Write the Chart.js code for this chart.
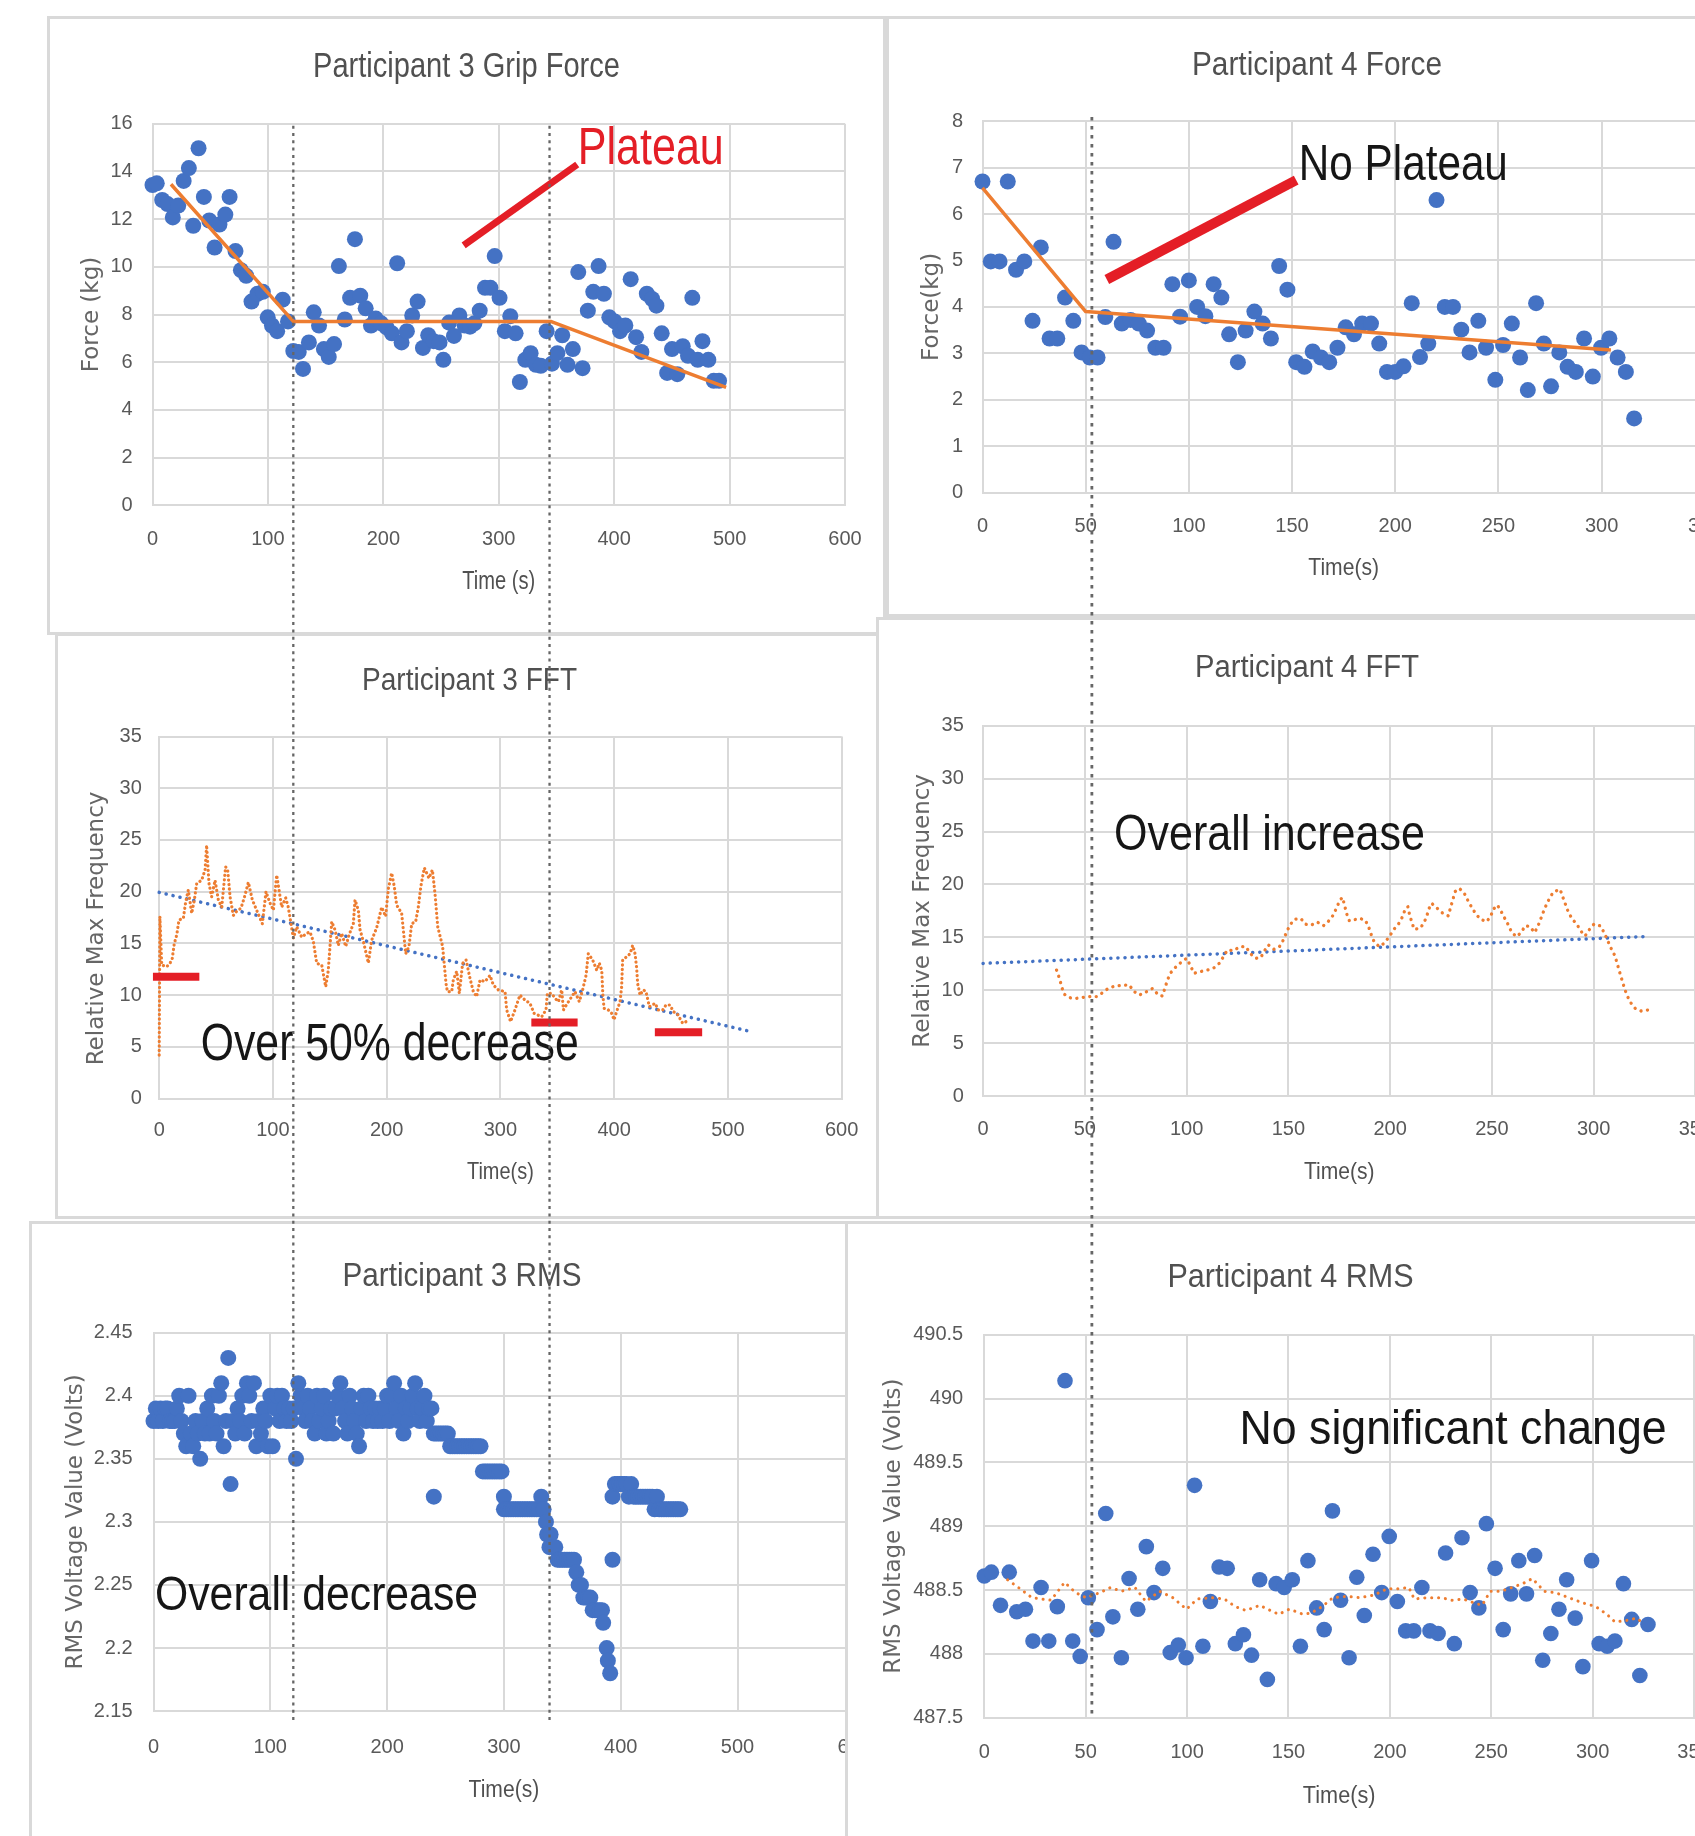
<!DOCTYPE html>
<html>
<head>
<meta charset="utf-8">
<script src="https://cdn.jsdelivr.net/npm/chart.js@4.4.1/dist/chart.umd.min.js"></script>
<style>
html, body { margin: 0; padding: 0; background: #fff; width: 1695px; height: 1836px; overflow: hidden; position: relative; }
.panel { position: absolute; border: 3px solid #d9d9d9; background: #fff; }
.panel canvas { display: block; }
#overlay { position: absolute; left: 0; top: 0; pointer-events: none; z-index: 20; }
</style>
</head>
<body>
<canvas id="overlay" width="1695" height="1836"></canvas>
<script>
// ---- data ----
const p3ForcePoints = [[0,13.43],[3.7,13.5],[8.4,12.8],[13,12.63],[17.6,12.07],[22.3,12.57],[27,13.6],[31.5,14.14],[35.3,11.72],[39.9,14.97],[44.5,12.93],[49.2,11.94],[53.8,10.81],[58,11.77],[63.1,12.19],[66.8,12.93],[71.9,10.66],[76.6,9.86],[81.2,9.62],[85.8,8.54],[91,8.87],[95.6,8.95],[99.8,7.88],[103.5,7.54],[108,7.3],[112.8,8.62],[117.4,7.71],[122,6.47],[126.7,6.43],[130.4,5.72],[135.5,6.83],[139.7,8.09],[144.3,7.54],[148.5,6.55],[152.7,6.22],[157.3,6.76],[161.5,10.03],[166.6,7.79],[171.2,8.7],[175.4,11.16],[180,8.79],[184.7,8.26],[189.3,7.54],[193.5,7.83],[198.1,7.63],[202.8,7.46],[207.4,7.21],[212,10.15],[215.8,6.83],[220.4,7.3],[225,7.96],[229.7,8.54],[234.3,6.6],[238.9,7.13],[243.6,6.88],[248.7,6.83],[252,6.1],[257,7.66],[261.2,7.1],[265.9,7.96],[270.5,7.54],[275.1,7.49],[278.9,7.63],[283.5,8.16],[288.1,9.12],[292.8,9.12],[296.5,10.45],[300.7,8.7],[305.3,7.3],[310,7.93],[314.6,7.21],[318.3,5.17],[323,6.1],[327.6,6.38],[332.2,5.89],[336.4,5.85],[341.5,7.3],[346.1,5.94],[350.8,6.38],[355,7.13],[359.6,5.89],[364.2,6.55],[368.9,9.78],[372.6,5.75],[377.2,8.16],[381.9,8.95],[386.5,10.03],[391.1,8.87],[395.8,7.88],[400.4,7.71],[405.1,7.3],[409.7,7.54],[414.3,9.48],[419,7.05],[423.6,6.43],[428.3,8.87],[432.9,8.65],[436.6,8.37],[441.2,7.21],[445.9,5.55],[450.1,6.55],[454.7,5.5],[459.4,6.67],[464,6.27],[467.7,8.7],[472.4,6.1],[476.5,6.88],[481.6,6.1],[486.3,5.22],[490.9,5.22]];
const p3ForceFit = [[16,13.46],[122,7.71],[345,7.71],[497,4.94]];

const p4ForcePoints = [[0,6.7],[4,4.98],[8.25,4.98],[12.25,6.7],[16.25,4.8],[20.25,4.98],[24.25,3.7],[28.25,5.28],[32.5,3.32],[36.25,3.32],[40,4.2],[44,3.7],[48,3.02],[52,2.91],[55.75,2.91],[59.5,3.78],[63.5,5.4],[67.5,3.64],[71.75,3.72],[75.75,3.64],[79.75,3.49],[83.75,3.12],[87.75,3.12],[92,4.49],[95.75,3.79],[100,4.57],[104,4.0],[108,3.8],[112,4.49],[115.75,4.2],[119.5,3.41],[123.75,2.81],[127.5,3.49],[131.75,3.9],[135.75,3.64],[139.75,3.32],[143.75,4.88],[147.75,4.37],[152,2.81],[156,2.71],[160,3.04],[164,2.91],[168,2.81],[172,3.12],[176,3.56],[180,3.41],[184,3.64],[188.25,3.64],[192.25,3.21],[196,2.6],[200,2.6],[204,2.72],[208,4.08],[212,2.92],[216,3.21],[220,6.3],[224,4.0],[228,4.0],[232,3.51],[236,3.02],[240.25,3.7],[244,3.12],[248.5,2.43],[252.25,3.18],[256.5,3.64],[260.5,2.91],[264.25,2.21],[268.25,4.08],[272,3.21],[275.5,2.29],[279.5,3.02],[283.5,2.71],[287.5,2.6],[291.5,3.32],[295.75,2.5],[299.75,3.12],[303.75,3.32],[307.75,2.91],[311.75,2.6],[315.75,1.6]];
const p4ForceFit = [[0,6.56],[50,3.9],[304.5,3.07]];

const p3FftPoints = [[0,4.2],[0.6,17.6],[2.2,12.9],[6.6,12.75],[9.5,13.07],[11.5,13.55],[13.3,15.0],[15.4,15.8],[17.4,17.26],[21.2,17.4],[23.3,19.0],[25.6,20.16],[28.6,17.9],[30.9,19.2],[33,20.8],[37.3,21.1],[40.3,22.1],[41.7,24.5],[43.8,20.8],[46.1,19.5],[49.1,21.1],[52,19.2],[55,18.5],[58.4,22.4],[60.2,22.1],[62.3,19.5],[65.2,17.7],[68.1,18.1],[71.9,18.4],[74.9,19.45],[78.4,20.9],[81.9,19.2],[85.7,18.2],[90.7,16.9],[93.9,20.0],[97.4,18.9],[100.4,18.2],[103.3,21.6],[105.3,20.2],[107.7,18.5],[111.2,19.4],[113.5,18.5],[115.9,16.9],[118,15.5],[120.9,16.6],[125.3,15.6],[129.7,15.97],[132.6,16.1],[135.5,15.2],[138.5,13.07],[142.9,12.9],[146.4,10.8],[148.7,12.4],[151.7,17.1],[154.6,16.3],[157.5,14.8],[160.4,15.97],[164,14.7],[166.9,15.8],[170.7,16.9],[172.2,19.2],[175.1,18.2],[176.6,16.3],[179.5,15.2],[183.9,13.1],[186.8,15.3],[191.2,16.5],[195.6,18.5],[199.1,17.6],[201.5,20.3],[204.4,21.8],[206.7,20.5],[208.8,18.7],[213.2,17.9],[216.7,14.0],[219.6,14.7],[222,16.9],[225.5,17.1],[227.8,18.5],[230.2,20.6],[233.1,22.3],[237.2,21.3],[240.2,22.1],[242.5,19.8],[244.9,16.6],[249.2,14.7],[252.2,11.1],[253.4,10.33],[257.2,10.33],[258.6,11.46],[261.6,12.3],[263.9,10.17],[266.8,13.07],[269.8,13.4],[273.3,11.6],[276.2,10.33],[279.1,9.85],[282.1,11.46],[286.5,11.3],[290.9,11.9],[293.8,10.97],[298.2,10.5],[304.1,10.33],[305.5,8.56],[309,7.43],[312.8,8.56],[317.2,10.0],[321.6,9.52],[326,9.2],[329.6,8.24],[336.3,7.9],[340.1,8.56],[341.3,10.17],[345.1,10.17],[348,9.69],[351,9.36],[353.9,10.5],[355.4,8.56],[358.9,9.2],[361.8,9.69],[365.6,10.33],[369.4,9.36],[372.3,10.5],[375.3,11.9],[377.3,14.0],[381.1,13.4],[384.7,12.4],[387,13.07],[389.1,12.4],[390,10.17],[391.1,8.72],[394.9,8.56],[397.8,8.24],[399.9,7.6],[402.2,8.4],[405.2,9.36],[406.6,10.8],[407.5,13.4],[411,13.7],[414,14.0],[416.3,14.8],[418.4,14.0],[419.8,12.6],[420.7,11.1],[422.8,10.0],[425.7,10.5],[428,10.33],[431,8.88],[436,9.2],[438.9,8.56],[442.7,8.56],[445.6,9.04],[449.1,9.04],[452.1,8.4],[455.6,8.17],[460.3,7.27],[463.2,7.43]];
const p3FftTrend = [[0,19.93],[521.4,6.44]];

const p4FftPoints = [[36.1,11.9],[37.5,11.13],[38.6,10.34],[39.7,9.65],[42.4,9.3],[46,9.24],[49.3,9.33],[52.5,9.4],[55.8,9.4],[58.7,9.77],[61.5,10.18],[64.8,10.4],[68.6,10.47],[71.9,10.5],[73.8,9.93],[76.8,9.55],[80.4,9.87],[83.3,10.18],[86.1,9.55],[88.1,9.46],[89.4,10.24],[90.7,11.03],[92.2,11.66],[94.8,12.23],[97.6,12.7],[100,13.02],[102,12.29],[103.6,11.6],[106.6,11.76],[109.9,11.9],[113.1,12.07],[116.1,12.55],[118.1,13.17],[120,13.8],[123,13.74],[126.2,14.12],[129.2,14.12],[131.1,13.49],[134.1,13.02],[136.4,13.08],[138.5,13.8],[140.2,14.28],[142.9,13.87],[145.6,14.12],[147.5,14.75],[149.2,15.54],[150.8,16.17],[152.9,16.7],[156.2,16.77],[158.2,16.26],[161,16.14],[164.2,16.45],[167.2,16.1],[169.6,16.5],[172.1,17.11],[173.7,17.8],[175.4,18.53],[176.6,18.78],[177.7,17.96],[178.7,17.2],[180,16.55],[182,16.64],[184.9,16.8],[187.7,16.64],[189.3,16.07],[190.6,15.32],[192.1,14.59],[194.7,14.12],[197,14.43],[199.6,15.06],[201.6,15.7],[204.1,16.26],[205.7,16.8],[207.3,17.59],[208.7,17.9],[209.5,17.18],[210.6,16.48],[211.8,15.76],[214.7,15.85],[216.7,16.39],[218,17.02],[219.3,17.81],[220.4,18.22],[223.2,17.74],[225.9,17.27],[228.6,17.02],[229.8,17.9],[230.8,18.53],[231.9,19.32],[234,19.63],[236.3,19.22],[238.1,18.53],[240.1,17.84],[242.1,17.21],[244.5,16.7],[247.5,16.48],[249.4,17.02],[251.1,17.74],[252.7,18.06],[254.8,17.36],[256.5,16.73],[258.1,16.17],[259.8,15.44],[262.2,15.07],[264.7,15.54],[266.3,16.1],[268.8,16.01],[270.9,15.44],[272.4,15.95],[273.7,16.58],[275,17.27],[276.5,17.96],[278.3,18.69],[280.2,19.29],[283.5,19.54],[284.8,18.84],[286.1,18.15],[287.6,17.36],[289.6,16.7],[291.7,16.26],[293.7,15.6],[295.8,15.13],[298,15.76],[300.2,16.26],[303.5,16.07],[305.3,15.38],[306.9,14.69],[308.6,13.96],[310.5,13.24],[312.7,11.76],[315,10.28],[316.3,9.55],[318.2,8.83],[320.4,8.29],[323.3,8.04],[326.9,8.14]];
const p4FftTrend = [[0,12.54],[327.2,15.09]];

const p3RmsPoints = [[0,2.38],[2,2.39],[4,2.38],[6,2.39],[8,2.38],[10,2.39],[12,2.39],[14,2.38],[16,2.38],[18,2.38],[20,2.39],[22,2.40],[24,2.38],[26,2.37],[28,2.36],[30,2.40],[32,2.37],[34,2.36],[36,2.38],[38,2.37],[40,2.35],[42,2.38],[44,2.37],[46,2.39],[48,2.37],[50,2.40],[52,2.38],[54,2.37],[56,2.40],[58,2.41],[60,2.36],[62,2.38],[64,2.43],[66,2.33],[68,2.38],[70,2.37],[72,2.39],[74,2.38],[76,2.40],[78,2.37],[80,2.41],[82,2.40],[84,2.38],[86,2.41],[88,2.36],[90,2.38],[92,2.37],[94,2.39],[96,2.38],[98,2.36],[100,2.40],[102,2.36],[104,2.39],[106,2.40],[108,2.38],[110,2.40],[112,2.39],[114,2.38],[116,2.39],[118,2.38],[120,2.39],[122,2.35],[124,2.41],[126,2.40],[128,2.39],[130,2.38],[132,2.40],[134,2.39],[136,2.38],[138,2.37],[140,2.40],[142,2.38],[144,2.39],[146,2.40],[148,2.37],[150,2.38],[152,2.39],[154,2.37],[156,2.39],[158,2.40],[160,2.41],[162,2.39],[164,2.38],[166,2.37],[168,2.40],[170,2.39],[172,2.38],[174,2.37],[176,2.36],[178,2.39],[180,2.40],[182,2.38],[184,2.40],[186,2.39],[188,2.38],[190,2.39],[192,2.38],[194,2.39],[196,2.38],[198,2.39],[200,2.40],[202,2.38],[204,2.40],[206,2.41],[208,2.39],[210,2.38],[212,2.40],[214,2.37],[216,2.39],[218,2.38],[220,2.39],[222,2.40],[224,2.41],[226,2.39],[228,2.38],[230,2.39],[232,2.40],[234,2.38],[236,2.39],[238,2.39],
  [240,2.32],[240,2.37],[242,2.37],[244,2.37],[246,2.37],[248,2.37],[250,2.37],[252,2.37],[254,2.36],[256,2.36],[258,2.36],[260,2.36],[262,2.36],[264,2.36],[266,2.36],[268,2.36],[270,2.36],[272,2.36],[274,2.36],[276,2.36],[278,2.36],[280,2.36],[282,2.34],[284,2.34],[286,2.34],[288,2.34],[290,2.34],[292,2.34],[294,2.34],[296,2.34],[298,2.34],[300,2.32],[300,2.31],[302,2.31],[304,2.31],[306,2.31],[308,2.31],[310,2.31],[312,2.31],[314,2.31],[316,2.31],[318,2.31],[320,2.31],[322,2.31],[324,2.31],[326,2.31],[328,2.31],[330,2.31],[332,2.32],[334,2.31],[336,2.30],[337,2.29],[339,2.28],[340,2.29],[342,2.28],[344,2.28],[346,2.27],[348,2.27],[350,2.27],[352,2.27],[354,2.27],[356,2.27],[358,2.27],[360,2.27],[362,2.26],[364,2.25],[366,2.25],[368,2.24],[370,2.24],[372,2.24],[374,2.24],[376,2.23],[378,2.23],[380,2.23],[382,2.23],[384,2.23],[385,2.22],[388,2.20],[389,2.19],[391,2.18],[393,2.27],[393,2.32],[395,2.33],[397,2.33],[399,2.33],[401,2.33],[403,2.33],[405,2.33],[407,2.32],[409,2.33],[411,2.32],[413,2.32],[415,2.32],[417,2.32],[419,2.32],[421,2.32],[423,2.32],[425,2.32],[427,2.32],[429,2.31],[431,2.32],[433,2.31],[435,2.31],[437,2.31],[439,2.31],[441,2.31],[443,2.31],[445,2.31],[447,2.31],[449,2.31],[451,2.31]];

const p4RmsPoints = [[0,488.61],[3.5,488.64],[8,488.38],[12.3,488.64],[16,488.33],[20.3,488.35],[24,488.1],[28,488.52],[31.8,488.1],[36,488.37],[39.8,490.14],[43.6,488.1],[47.3,487.98],[51.3,488.44],[55.6,488.19],[59.9,489.1],[63.4,488.29],[67.6,487.97],[71.4,488.59],[75.7,488.35],[79.9,488.84],[83.7,488.48],[88,488.67],[91.7,488.01],[95.7,488.07],[99.5,487.97],[103.7,489.32],[107.8,488.06],[111.5,488.41],[115.8,488.68],[119.8,488.67],[123.8,488.08],[127.8,488.15],[131.8,487.99],[135.8,488.58],[139.6,487.8],[143.9,488.55],[147.9,488.52],[151.9,488.58],[155.9,488.06],[159.6,488.73],[163.9,488.36],[167.6,488.19],[171.7,489.12],[175.7,488.42],[179.9,487.97],[183.7,488.6],[187.4,488.3],[191.7,488.78],[196,488.48],[199.7,488.92],[203.7,488.41],[207.8,488.18],[211.8,488.18],[215.8,488.52],[219.8,488.18],[223.8,488.16],[227.5,488.79],[231.8,488.08],[235.6,488.91],[239.6,488.48],[243.9,488.36],[247.6,489.02],[251.9,488.67],[255.9,488.19],[259.6,488.47],[263.6,488.73],[267.4,488.47],[271.4,488.77],[275.4,487.95],[279.4,488.16],[283.4,488.35],[287.2,488.58],[291.4,488.28],[295.2,487.9],[299.5,488.73],[303.2,488.08],[307.2,488.06],[311,488.1],[315.2,488.55],[319.3,488.27],[323.3,487.83],[327.3,488.23]];
const p4RmsAvg = [[11.5,488.58],[16.8,488.52],[23.5,488.44],[32.9,488.42],[39.6,488.56],[45,488.48],[50.3,488.44],[57,488.48],[62.3,488.52],[67.6,488.49],[74.3,488.52],[79.7,488.41],[86.4,488.49],[93,488.44],[99.7,488.35],[105,488.43],[111.8,488.44],[118.4,488.43],[123.8,488.37],[129,488.34],[135.8,488.38],[142.5,488.33],[145.2,488.31],[150.5,488.35],[157.2,488.31],[161.2,488.32],[166.6,488.37],[171.9,488.44],[178.6,488.45],[185.3,488.44],[192,488.46],[198.7,488.51],[204,488.51],[209.4,488.52],[212,488.43],[218.7,488.44],[225.4,488.44],[230.7,488.42],[236.1,488.43],[241.4,488.4],[245.5,488.38],[249.5,488.49],[254.8,488.49],[260.2,488.52],[265.5,488.55],[270.3,488.59],[276.2,488.49],[281.6,488.48],[288.3,488.44],[295,488.4],[301.6,488.37],[307,488.31],[311,488.25],[316.3,488.26],[321.7,488.28],[325.7,488.23]];

// phase boundaries (s) marked by the dotted verticals
const p3Phases = [122, 344];
const p4Phases = [53];

// ---- look ----
const BLUE = '#4472C4', ORANGE = '#ED7D31', RED = '#E41E26', GRID = '#D9D9D9', LABEL = '#595959', INK = '#161616';

function hasFont(name) {
  const c = document.createElement('canvas').getContext('2d');
  const s = 'Participant 0123456789';
  c.font = '40px monospace';
  const w1 = c.measureText(s).width;
  c.font = `40px '${name}', monospace`;
  return Math.abs(c.measureText(s).width - w1) > 1;
}
const NARROW = hasFont('Liberation Sans Narrow');
const COND = NARROW ? "'Liberation Sans Narrow', 'Arial Narrow', sans-serif" : "'Liberation Sans', Arial, sans-serif";
const TICK_SIZE = NARROW ? 22 : 20;
const YT_SIZE = 23;

// page placement of the six screenshots: box = [left, top, bottom]
const PANELS = {
  a: { box: [47, 16, 635],   plot: [152.5, 845, 123.7, 505.3],    title: [466.6, 64.4],   yTitleX: 92.5,  xTitleY: 580,    yTickRight: 132.7, xTickY: 539,    z: 1 },
  b: { box: [886, 16, 617],  plot: [982.5, 1704.8, 121.1, 492.7], title: [1316.8, 63.2],  yTitleX: 932.4, xTitleY: 566.7,  yTickRight: 963,   xTickY: 526,    z: 2 },
  c: { box: [55, 633, 1219], plot: [159.2, 841.6, 736.5, 1098.5], title: [469.6, 678.9],  yTitleX: 97.1,  xTitleY: 1170.7, yTickRight: 141.8, xTickY: 1130.5, z: 3 },
  d: { box: [876, 617, 1219],plot: [983.1, 1695.4, 725.7, 1096.1],title: [1306.9, 665.2], yTitleX: 923,   xTitleY: 1170.6, yTickRight: 963.8, xTickY: 1129.3, z: 4 },
  e: { box: [29, 1221, 1860],plot: [153.5, 854.3, 1332.7, 1711.1],title: [462.1, 1274.2],yTitleX: 76.1,  xTitleY: 1788.5, yTickRight: 132.6, xTickY: 1747.2, z: 5 },
  f: { box: [845, 1221, 1860],plot: [984.3, 1694, 1334.7, 1717.7],title: [1290.6, 1275], yTitleX: 893.8, xTitleY: 1794.4, yTickRight: 963.2, xTickY: 1752.3, z: 6 }
};

const pts = arr => arr.map(([x, y]) => ({ x, y }));
const dots = (arr, r) => ({ data: pts(arr), backgroundColor: BLUE, borderWidth: 0, pointRadius: r, pointHoverRadius: r, clip: false });
const line = (arr, color, width, dash) => ({
  data: pts(arr), showLine: true, borderColor: color, borderWidth: width,
  borderDash: dash || [], borderCapStyle: dash ? 'round' : 'butt', borderJoinStyle: 'round',
  pointRadius: 0, pointHoverRadius: 0, fill: false, tension: 0, clip: false
});

// condensed text: fitted to a width, cap height given in px
function fitText(ctx, text, x, y, width, cap, color, align) {
  ctx.font = `${cap / 0.716}px ${COND}`;
  const w = ctx.measureText(text).width;
  ctx.save();
  ctx.translate(x, y);
  ctx.scale(width / w, 1);
  ctx.fillStyle = color;
  ctx.textAlign = align;
  ctx.textBaseline = 'alphabetic';
  ctx.fillText(text, 0, 0);
  ctx.restore();
}

// headings plus red strokes and hand-written labels (the latter in data units)
function notes(heads, lines, texts) {
  return {
    id: 'notes',
    afterDraw(chart) {
      const { ctx, scales: { x, y } } = chart;
      ctx.save();
      heads.forEach(h => fitText(ctx, h.text, h.cx, h.cy + h.cap / 2, h.width, h.cap, h.color, 'center'));
      lines.forEach(ln => {
        ctx.beginPath();
        ctx.strokeStyle = RED;
        ctx.lineWidth = ln.w;
        ctx.lineCap = 'butt';
        ctx.moveTo(x.getPixelForValue(ln.from[0]), y.getPixelForValue(ln.from[1]));
        ctx.lineTo(x.getPixelForValue(ln.to[0]), y.getPixelForValue(ln.to[1]));
        ctx.stroke();
      });
      texts.forEach(tx => fitText(ctx, tx.text, x.getPixelForValue(tx.at[0]), y.getPixelForValue(tx.at[1]), tx.width, tx.cap, tx.color, 'left'));
      ctx.restore();
    }
  };
}

function makeChart(key, cfg) {
  const P = PANELS[key];
  const il = P.box[0] + 3, it = P.box[1] + 3;
  const W = Math.round(2 * (P.title[0] - il));
  const H = Math.round(P.box[2] - 3 - it);
  const l = P.plot[0] - il, r = P.plot[1] - il, t = P.plot[2] - it, b = P.plot[3] - it;

  const div = document.createElement('div');
  div.className = 'panel';
  Object.assign(div.style, { left: P.box[0] + 'px', top: P.box[1] + 'px', width: W + 'px', height: H + 'px', zIndex: P.z });
  const cv = document.createElement('canvas');
  cv.width = W; cv.height = H;
  div.appendChild(cv);
  document.body.appendChild(div);

  const heads = [
    { text: cfg.title, cx: W / 2, cy: P.title[1] - it, width: cfg.titleFit[0], cap: cfg.titleFit[1], color: '#505050' },
    { text: cfg.xTitle, cx: (l + r) / 2, cy: P.xTitleY - it, width: cfg.xTitleFit[0], cap: cfg.xTitleFit[1], color: '#505050' }
  ];

  const chart = new Chart(cv, {
    type: 'scatter',
    data: { datasets: cfg.datasets },
    options: {
      responsive: false,
      animation: false,
      events: [],
      layout: { padding: { top: t, left: 0, right: 0, bottom: 0 } },
      plugins: {
        legend: { display: false },
        tooltip: { enabled: false },
        title: { display: false, text: cfg.title }
      },
      scales: {
        x: {
          type: 'linear', position: 'bottom', min: cfg.x[0], max: cfg.x[1],
          grid: { color: GRID, lineWidth: 2, drawTicks: false },
          border: { color: GRID, width: 2 },
          ticks: {
            stepSize: cfg.x[2], color: LABEL, autoSkip: false, maxRotation: 0,
            font: { family: COND, size: TICK_SIZE, lineHeight: 1.2 },
            padding: (P.xTickY - it) - b - 0.6 * TICK_SIZE
          },
          title: { display: false, text: cfg.xTitle },
          afterFit: s => { s.height = H - b; s.paddingLeft = 0; s.paddingRight = W - r; }
        },
        y: {
          type: 'linear', position: 'left', min: cfg.y[0], max: cfg.y[1],
          grid: { color: GRID, lineWidth: 2, drawTicks: false },
          border: { color: GRID, width: 2 },
          ticks: {
            stepSize: cfg.y[2], color: LABEL, autoSkip: false,
            font: { family: COND, size: TICK_SIZE, lineHeight: 1.2 },
            padding: l - (P.yTickRight - il),
            callback: v => String(Number(v.toFixed(2)))
          },
          title: {
            display: true, text: cfg.yTitle, color: '#666666',
            font: { family: "'DejaVu Sans', Verdana, sans-serif", size: YT_SIZE, lineHeight: 1.2 },
            padding: { top: (P.yTitleX - il) - 0.6 * YT_SIZE, bottom: 0 }
          },
          afterFit: s => { s.width = l; s.paddingTop = 0; s.paddingBottom = 0; }
        }
      }
    },
    plugins: [notes(heads, cfg.lines || [], cfg.texts || [])]
  });
  return { chart, il, it };
}

const A = makeChart('a', {
  title: 'Participant 3 Grip Force', titleFit: [307, 25], xTitle: 'Time (s)', xTitleFit: [73, 17.8], yTitle: 'Force (kg)',
  x: [0, 600, 100], y: [0, 16, 2],
  datasets: [line(p3ForceFit, ORANGE, 3.5), dots(p3ForcePoints, 8)],
  lines: [{ from: [269.6, 10.9], to: [368, 14.29], w: 7 }],
  texts: [{ text: 'Plateau', at: [368.5, 14.29], width: 146, cap: 36.8, color: RED }]
});

const B = makeChart('b', {
  title: 'Participant 4 Force', titleFit: [250, 24.3], xTitle: 'Time(s)', xTitleFit: [70.7, 17.4], yTitle: 'Force(kg)',
  x: [0, 350, 50], y: [0, 8, 1],
  datasets: [line(p4ForceFit, ORANGE, 3.5), dots(p4ForcePoints, 8)],
  lines: [{ from: [60.25, 4.59], to: [152, 6.73], w: 10 }],
  texts: [{ text: 'No Plateau', at: [153.3, 6.73], width: 209, cap: 35.9, color: INK }]
});

makeChart('c', {
  title: 'Participant 3 FFT', titleFit: [215, 22.6], xTitle: 'Time(s)', xTitleFit: [66.8, 16.9], yTitle: 'Relative Max Frequency   ',
  x: [0, 600, 100], y: [0, 35, 5],
  datasets: [line(p3FftPoints, ORANGE, 3.2, [0.1, 4.4]), line(p3FftTrend, BLUE, 3.5, [0.1, 7])],
  lines: [
    { from: [-5.5, 11.77], to: [35.3, 11.77], w: 8 },
    { from: [327.2, 7.35], to: [367.9, 7.35], w: 8 },
    { from: [435.8, 6.41], to: [477.4, 6.41], w: 8 }
  ],
  texts: [{ text: 'Over 50% decrease', at: [36.5, 3.75], width: 378, cap: 36.5, color: INK }]
});

makeChart('d', {
  title: 'Participant 4 FFT', titleFit: [224, 23.1], xTitle: 'Time(s)', xTitleFit: [70.5, 17.4], yTitle: 'Relative Max Frequency',
  x: [0, 350, 50], y: [0, 35, 5],
  datasets: [line(p4FftPoints, ORANGE, 3.3, [0.1, 6.4]), line(p4FftTrend, BLUE, 3.5, [0.1, 7])],
  texts: [{ text: 'Overall increase', at: [64.3, 23.3], width: 311, cap: 35.1, color: INK }]
});

const E = makeChart('e', {
  title: 'Participant 3 RMS', titleFit: [239, 23.6], xTitle: 'Time(s)', xTitleFit: [70.6, 17.7], yTitle: 'RMS Voltage Value (Volts)',
  x: [0, 600, 100], y: [2.15, 2.45, 0.05],
  datasets: [dots(p3RmsPoints, 8)],
  texts: [{ text: 'Overall decrease', at: [1.3, 2.2304], width: 323, cap: 34.2, color: INK }]
});

const F = makeChart('f', {
  title: 'Participant 4 RMS', titleFit: [246, 23.6], xTitle: 'Time(s)', xTitleFit: [72.6, 17.7], yTitle: 'RMS Voltage Value (Volts)',
  x: [0, 350, 50], y: [487.5, 490.5, 0.5],
  datasets: [line(p4RmsAvg, ORANGE, 3, [0.1, 6.8]), dots(p4RmsPoints, 7.8)],
  texts: [{ text: 'No significant change', at: [125.9, 489.64], width: 427, cap: 34.2, color: INK }]
});

// dotted phase markers running through the stacked panels
const g = document.getElementById('overlay').getContext('2d');
function vline(x, y1, y2, w, dash) {
  g.save();
  g.strokeStyle = '#666666';
  g.lineWidth = w;
  g.setLineDash(dash);
  g.beginPath();
  g.moveTo(x, y1);
  g.lineTo(x, y2);
  g.stroke();
  g.restore();
}
p3Phases.forEach(v => {
  const x = A.il + A.chart.scales.x.getPixelForValue(v);
  vline(x, A.it + A.chart.chartArea.top + 2, E.it + E.chart.chartArea.bottom + 12, 2.3, [3, 4.3]);
});
p4Phases.forEach(v => {
  const x = B.il + B.chart.scales.x.getPixelForValue(v);
  vline(x, B.it + B.chart.chartArea.top - 4, F.it + F.chart.chartArea.bottom, 2.8, [3.5, 5.5]);
});
</script>
</body>
</html>
